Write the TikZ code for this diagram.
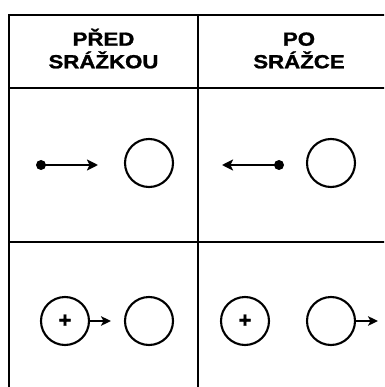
\documentclass[tikz,border=0pt]{standalone}
\usepackage{fontspec}
\setmainfont{Liberation Sans}
\newfontfamily\headfont[BoldFeatures={FakeBold=1.2}]{Liberation Sans}
\newfontfamily\signfont[BoldFeatures={FakeBold=1.6}]{Liberation Sans}
\usetikzlibrary{arrows.meta}
\begin{document}
\begin{tikzpicture}[x=1pt,y=-1pt,
  grid/.style={line width=2.4pt,line cap=rect},
  ball/.style={circle,draw,line width=2.1pt,minimum size=48pt,inner sep=0pt},
  dot/.style={circle,fill,inner sep=0pt,minimum size=10pt},
  velo/.style={line width=2.8pt,-{Stealth[length=11pt,width=11pt,inset=2.5pt]}},
  push/.style={line width=2.4pt,-{Stealth[length=10pt,width=9.5pt,inset=2.5pt]}},
  head/.style={inner sep=0pt,anchor=base,font=\fontsize{19}{22}\selectfont\headfont\bfseries},
  sign/.style={inner sep=0pt,font=\fontsize{22}{22}\selectfont\signfont\bfseries}]
\useasboundingbox (0,0) rectangle (384,387);
\clip (0,0) rectangle (384,387);
% table frame
\draw[grid] (9,402) -- (9,15) -- (402,15);
\draw[grid] (198,15) -- (198,402);
\draw[grid] (9,88) -- (402,88);
\draw[grid] (9,242) -- (402,242);
% column headings
\node[head] (h1a) at (103.5,45.7) {\scalebox{1.17}[1]{PŘED}};
\node[head] (h1b) at (103.5,68.3) {\scalebox{1.17}[1]{SRÁŽKOU}};
\node[head] (h2a) at (299,45.7) {\scalebox{1.17}[1]{PO}};
\node[head] (h2b) at (299,68.3) {\scalebox{1.17}[1]{SRÁŽCE}};
% row 1: small particle and target
\node[dot] (p1) at (41,165) {};
\coordinate (t1) at (98,165);
\draw[velo] (p1.center) -- (t1);
\node[ball] (b1) at (149,163) {};
\node[dot] (p2) at (279,165) {};
\coordinate (t2) at (222,165);
\draw[velo] (p2.center) -- (t2);
\node[ball] (b2) at (331,163) {};
% row 2: charged ball and target
\node[ball] (c1) at (65,321) {};
\node[sign] (s1) at (c1.center) {+};
\coordinate (t3) at (111,321);
\draw[push] (c1.east) -- (t3);
\node[ball] (b3) at (149,321) {};
\node[ball] (c2) at (245,321) {};
\node[sign] (s2) at (c2.center) {+};
\node[ball] (b4) at (331,321) {};
\coordinate (t4) at (378,321);
\draw[push] (b4.east) -- (t4);
\end{tikzpicture}
\end{document}
